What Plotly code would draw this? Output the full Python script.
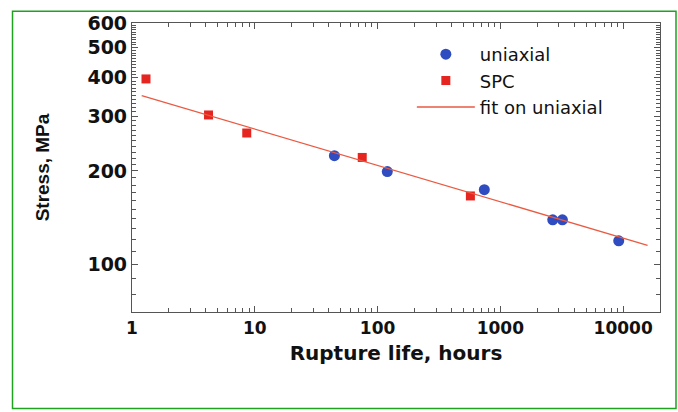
import plotly.graph_objects as go

# Data
uni_life = [44.5, 120, 740, 2670, 3200, 9200]
uni_stress = [224, 199, 174, 139, 139, 119]

spc_life = [1.3, 4.2, 8.6, 75, 570]
spc_stress = [396, 303, 265, 221, 166]

fit_life = [1.2, 15800]
fit_stress = [350, 115]

x_tickvals = [1, 10, 100, 1000, 10000]
x_ticktext = ["1", "10", "100", "1000", "10000"]
y_tickvals = [100, 200, 300, 400, 500, 600]
y_ticktext = ["100", "200", "300", "400", "500", "600"]

x_minor = [m * 10 ** d for d in range(0, 5) for m in range(2, 10)]
y_minor = [v for v in range(80, 600, 10) if v not in y_tickvals]

fig = go.Figure()
fig.add_trace(go.Scatter(
    x=uni_life, y=uni_stress, mode="markers", name="uniaxial",
    marker=dict(symbol="circle", size=11, color="#2f4cc0",
                line=dict(width=0)),
))
fig.add_trace(go.Scatter(
    x=spc_life, y=spc_stress, mode="markers", name="SPC",
    marker=dict(symbol="square", size=9, color="#e52620",
                line=dict(width=0)),
))
fig.add_trace(go.Scatter(
    x=fit_life, y=fit_stress, mode="lines", name="fit on uniaxial",
    line=dict(color="#ea5a42", width=1.3),
))

axis_common = dict(
    showline=True, linecolor="#555555", linewidth=1.2, mirror="ticks",
    ticks="inside", ticklen=6, tickwidth=1, tickcolor="#555555",
    showgrid=False, zeroline=False,
)

fig.update_xaxes(
    type="log", range=[0, 4.3],
    tickmode="array", tickvals=x_tickvals, ticktext=x_ticktext,
    tickfont=dict(family="DejaVu Sans", size=17, color="#111111", weight="bold"),
    minor=dict(tickmode="array", tickvals=x_minor, ticks="inside",
               ticklen=3.5, tickcolor="#555555", tickwidth=1),
    title=dict(text="Rupture life, hours", standoff=9,
               font=dict(family="DejaVu Sans", size=20, color="#111111", weight="bold")),
    **axis_common,
)
fig.update_yaxes(
    type="log", range=[1.8457, 2.7782],
    tickmode="array", tickvals=y_tickvals, ticktext=y_ticktext,
    tickfont=dict(family="DejaVu Sans", size=19, color="#111111", weight="bold"),
    minor=dict(tickmode="array", tickvals=y_minor, ticks="inside",
               ticklen=3.5, tickcolor="#555555", tickwidth=1),
    title=dict(text="Stress, MPa", standoff=32,
               font=dict(family="Liberation Sans", size=19, color="#111111", weight="bold")),
    **axis_common,
)

fig.add_shape(type="rect", xref="paper", yref="paper",
              x0=-0.2263, x1=1.0303, y0=-0.3339, y1=1.0407,
              line=dict(color="#1fa31f", width=1.5), fillcolor="rgba(0,0,0,0)",
              layer="below")

fig.update_layout(
    width=678, height=412,
    margin=dict(l=132, r=18, t=17, b=100),
    paper_bgcolor="white", plot_bgcolor="white",
    showlegend=True,
    legend=dict(x=0.53, y=0.955, xanchor="left", yanchor="top",
                bgcolor="rgba(0,0,0,0)", itemwidth=58,
                font=dict(family="DejaVu Sans", size=18, color="#111111"),
                tracegroupgap=0),
)

fig.write_html("out.html")
